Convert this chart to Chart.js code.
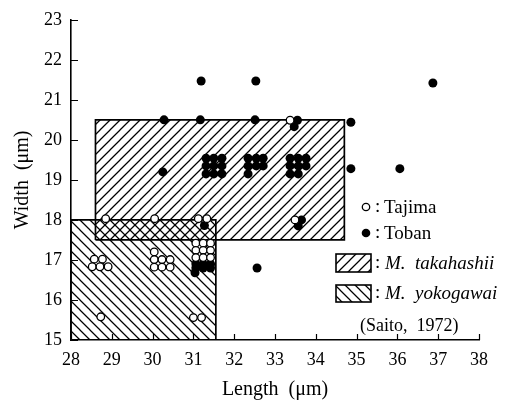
<!DOCTYPE html>
<html>
<head>
<meta charset="utf-8">
<script src="https://cdn.jsdelivr.net/npm/chart.js@4.4.1/dist/chart.umd.min.js"></script>
<style>
  html, body { margin: 0; padding: 0; background: #fff; }
  #wrap { width: 516px; height: 403px; }
</style>
</head>
<body>
<div id="wrap"><canvas id="chart" width="516" height="403"></canvas></div>
<script>
// Tajima (open circles), [length, width]
const tajimaPoints = [
  [28.57, 17.02], [28.77, 17.02], [28.52, 16.83], [28.71, 16.83], [28.91, 16.83],
  [30.04, 17.2], [30.04, 17.01], [30.23, 17.01], [30.43, 17.01],
  [30.04, 16.82], [30.23, 16.82], [30.43, 16.82],
  [31.06, 17.42], [31.24, 17.42], [31.42, 17.42],
  [31.06, 17.24], [31.24, 17.24], [31.42, 17.24],
  [31.06, 17.06], [31.24, 17.06], [31.42, 17.06],
  [28.85, 18.03], [30.05, 18.03], [31.12, 18.03], [31.33, 18.03],
  [28.73, 15.58], [31.0, 15.56], [31.2, 15.56],
  [33.37, 20.49], [33.49, 18.0]
];

// Toban (filled circles), [length, width]
const tobanPoints = [
  [31.19, 21.47], [32.53, 21.47], [36.87, 21.42],
  [30.28, 20.5], [31.17, 20.5], [32.51, 20.5], [33.55, 20.49], [33.47, 20.33], [34.86, 20.44],
  [30.25, 19.2],
  [31.31, 19.54], [31.5, 19.54], [31.7, 19.54],
  [31.31, 19.35], [31.5, 19.35], [31.7, 19.35],
  [31.31, 19.15], [31.5, 19.15], [31.7, 19.15],
  [32.34, 19.54], [32.54, 19.54], [32.71, 19.54],
  [32.34, 19.35], [32.54, 19.35], [32.71, 19.35],
  [32.34, 19.15],
  [33.37, 19.54], [33.57, 19.54], [33.76, 19.54],
  [33.37, 19.35], [33.57, 19.35], [33.76, 19.35],
  [33.37, 19.15], [33.57, 19.15],
  [34.86, 19.28], [36.06, 19.28],
  [33.65, 18.0], [33.57, 17.85], [31.27, 17.86],
  [31.06, 16.9], [31.24, 16.9], [31.42, 16.9],
  [31.06, 16.8], [31.24, 16.8], [31.42, 16.8],
  [31.04, 16.68],
  [32.56, 16.8]
];

// species ranges: [minLength, maxLength], [minWidth, maxWidth]
const takahashiiLength = [28.6, 34.7];
const takahashiiWidth = [17.5, 20.5];
const yokogawaiLength = [28.0, 31.55];
const yokogawaiWidth = [15.0, 18.0];

const xTicks = [28, 29, 30, 31, 32, 33, 34, 35, 36, 37, 38];
const yTicks = [15, 16, 17, 18, 19, 20, 21, 22, 23];

const serif = '"Liberation Serif", "DejaVu Serif", serif';

function toXY(arr) {
  return arr.map(p => ({ x: p[0], y: p[1] }));
}

function rectPath(xr, yr) {
  return [
    { x: xr[0], y: yr[0] }, { x: xr[0], y: yr[1] },
    { x: xr[1], y: yr[1] }, { x: xr[1], y: yr[0] },
    { x: xr[0], y: yr[0] }
  ];
}

// diagonal hatch pattern, dir 1 = "/", -1 = "\"
function makeHatch(dir) {
  const s = 10;
  const c = document.createElement('canvas');
  c.width = s; c.height = s;
  const g = c.getContext('2d');
  g.strokeStyle = '#000';
  g.lineWidth = 1.25;
  g.beginPath();
  if (dir > 0) {
    g.moveTo(-1, s + 1); g.lineTo(s + 1, -1);
    g.moveTo(-1, 1); g.lineTo(1, -1);
    g.moveTo(s - 1, s + 1); g.lineTo(s + 1, s - 1);
  } else {
    g.moveTo(-1, -1); g.lineTo(s + 1, s + 1);
    g.moveTo(s - 1, -1); g.lineTo(s + 1, 1);
    g.moveTo(-1, s - 1); g.lineTo(1, s + 1);
  }
  g.stroke();
  return g.createPattern(c, 'repeat');
}

const hatchTaka = makeHatch(1);
const hatchYoko = makeHatch(-1);

// ticks drawn inside the plot, from the scales
const innerTicks = {
  id: 'innerTicks',
  afterDraw(chart) {
    const { ctx, chartArea, scales } = chart;
    ctx.save();
    ctx.strokeStyle = '#000';
    ctx.lineWidth = 1.2;
    ctx.beginPath();
    xTicks.forEach(v => {
      const px = Math.round(scales.x.getPixelForValue(v)) + 0.5;
      ctx.moveTo(px, chartArea.bottom);
      ctx.lineTo(px, chartArea.bottom - 6);
    });
    yTicks.forEach(v => {
      const py = Math.round(scales.y.getPixelForValue(v)) + 0.5;
      ctx.moveTo(chartArea.left, py);
      ctx.lineTo(chartArea.left + 7, py);
    });
    ctx.stroke();
    ctx.restore();
  }
};

const legendBox = {
  id: 'legendBox',
  afterDraw(chart) {
    const ctx = chart.ctx;
    ctx.save();
    ctx.fillStyle = '#000';
    ctx.strokeStyle = '#000';
    ctx.textBaseline = 'middle';
    ctx.textAlign = 'left';

    ctx.lineWidth = 1.3;
    ctx.beginPath();
    ctx.arc(366, 207, 3.7, 0, Math.PI * 2);
    ctx.fillStyle = '#fff';
    ctx.fill();
    ctx.stroke();
    ctx.fillStyle = '#000';
    ctx.beginPath();
    ctx.arc(366, 233, 4.3, 0, Math.PI * 2);
    ctx.fill();

    ctx.font = '19px ' + serif;
    ctx.fillText(':', 375, 207);
    ctx.fillText('Tajima', 384, 208);
    ctx.fillText(':', 375, 233);
    ctx.fillText('Toban', 384, 234);

    ctx.lineWidth = 1.6;
    ctx.fillStyle = hatchTaka;
    ctx.fillRect(336, 254, 35, 18);
    ctx.strokeRect(336, 254, 35, 18);
    ctx.fillStyle = hatchYoko;
    ctx.fillRect(336, 285, 35, 17);
    ctx.strokeRect(336, 285, 35, 17);

    ctx.fillStyle = '#000';
    ctx.fillText(':', 375, 263);
    ctx.fillText(':', 375, 293);
    ctx.font = 'italic 19px ' + serif;
    ctx.fillText('M.  takahashii', 385, 264);
    ctx.fillText('M.  yokogawai', 385, 294);
    ctx.font = '18px ' + serif;
    ctx.fillText('(Saito,  1972)', 360, 326);
    ctx.restore();
  }
};

new Chart(document.getElementById('chart'), {
  type: 'scatter',
  data: {
    datasets: [
      {
        label: 'M. takahashii',
        data: rectPath(takahashiiLength, takahashiiWidth),
        showLine: true,
        fill: 'shape',
        backgroundColor: hatchTaka,
        borderColor: '#000',
        borderWidth: 1.7,
        pointRadius: 0,
        tension: 0,
        order: 3
      },
      {
        label: 'M. yokogawai',
        data: rectPath(yokogawaiLength, yokogawaiWidth),
        showLine: true,
        fill: 'shape',
        backgroundColor: hatchYoko,
        borderColor: '#000',
        borderWidth: 1.7,
        pointRadius: 0,
        tension: 0,
        order: 2
      },
      {
        label: 'Toban',
        data: toXY(tobanPoints),
        pointRadius: 4.5,
        pointBackgroundColor: '#000',
        pointBorderColor: '#000',
        pointBorderWidth: 0,
        order: 1
      },
      {
        label: 'Tajima',
        data: toXY(tajimaPoints),
        pointRadius: 3.8,
        pointBackgroundColor: '#fff',
        pointBorderColor: '#000',
        pointBorderWidth: 1.3,
        order: 0
      }
    ]
  },
  options: {
    responsive: false,
    animation: false,
    layout: { padding: { top: 16, right: 37, left: 0, bottom: 0 } },
    plugins: {
      legend: { display: false },
      tooltip: { enabled: false }
    },
    scales: {
      x: {
        type: 'linear',
        min: 28,
        max: 38,
        afterFit(scale) { scale.height = 63; },
        afterBuildTicks(scale) { scale.ticks = xTicks.map(v => ({ value: v })); },
        grid: { display: false, drawTicks: false },
        border: { display: true, color: '#000', width: 1.6 },
        ticks: { color: '#000', padding: 9, font: { family: serif, size: 18 } },
        title: {
          display: true,
          text: 'Length  (μm)',
          color: '#000',
          font: { family: serif, size: 20 },
          padding: { top: 0, bottom: 1 }
        }
      },
      y: {
        type: 'linear',
        min: 15,
        max: 23,
        afterFit(scale) { scale.width = 71; },
        afterBuildTicks(scale) { scale.ticks = yTicks.map(v => ({ value: v })); },
        grid: { display: false, drawTicks: false },
        border: { display: true, color: '#000', width: 1.6 },
        ticks: { color: '#000', padding: 9, font: { family: serif, size: 18 } },
        title: {
          display: true,
          text: 'Width  (μm)',
          color: '#000',
          font: { family: serif, size: 20 },
          padding: { top: 11, bottom: 0 }
        }
      }
    }
  },
  plugins: [innerTicks, legendBox]
});
</script>
</body>
</html>
